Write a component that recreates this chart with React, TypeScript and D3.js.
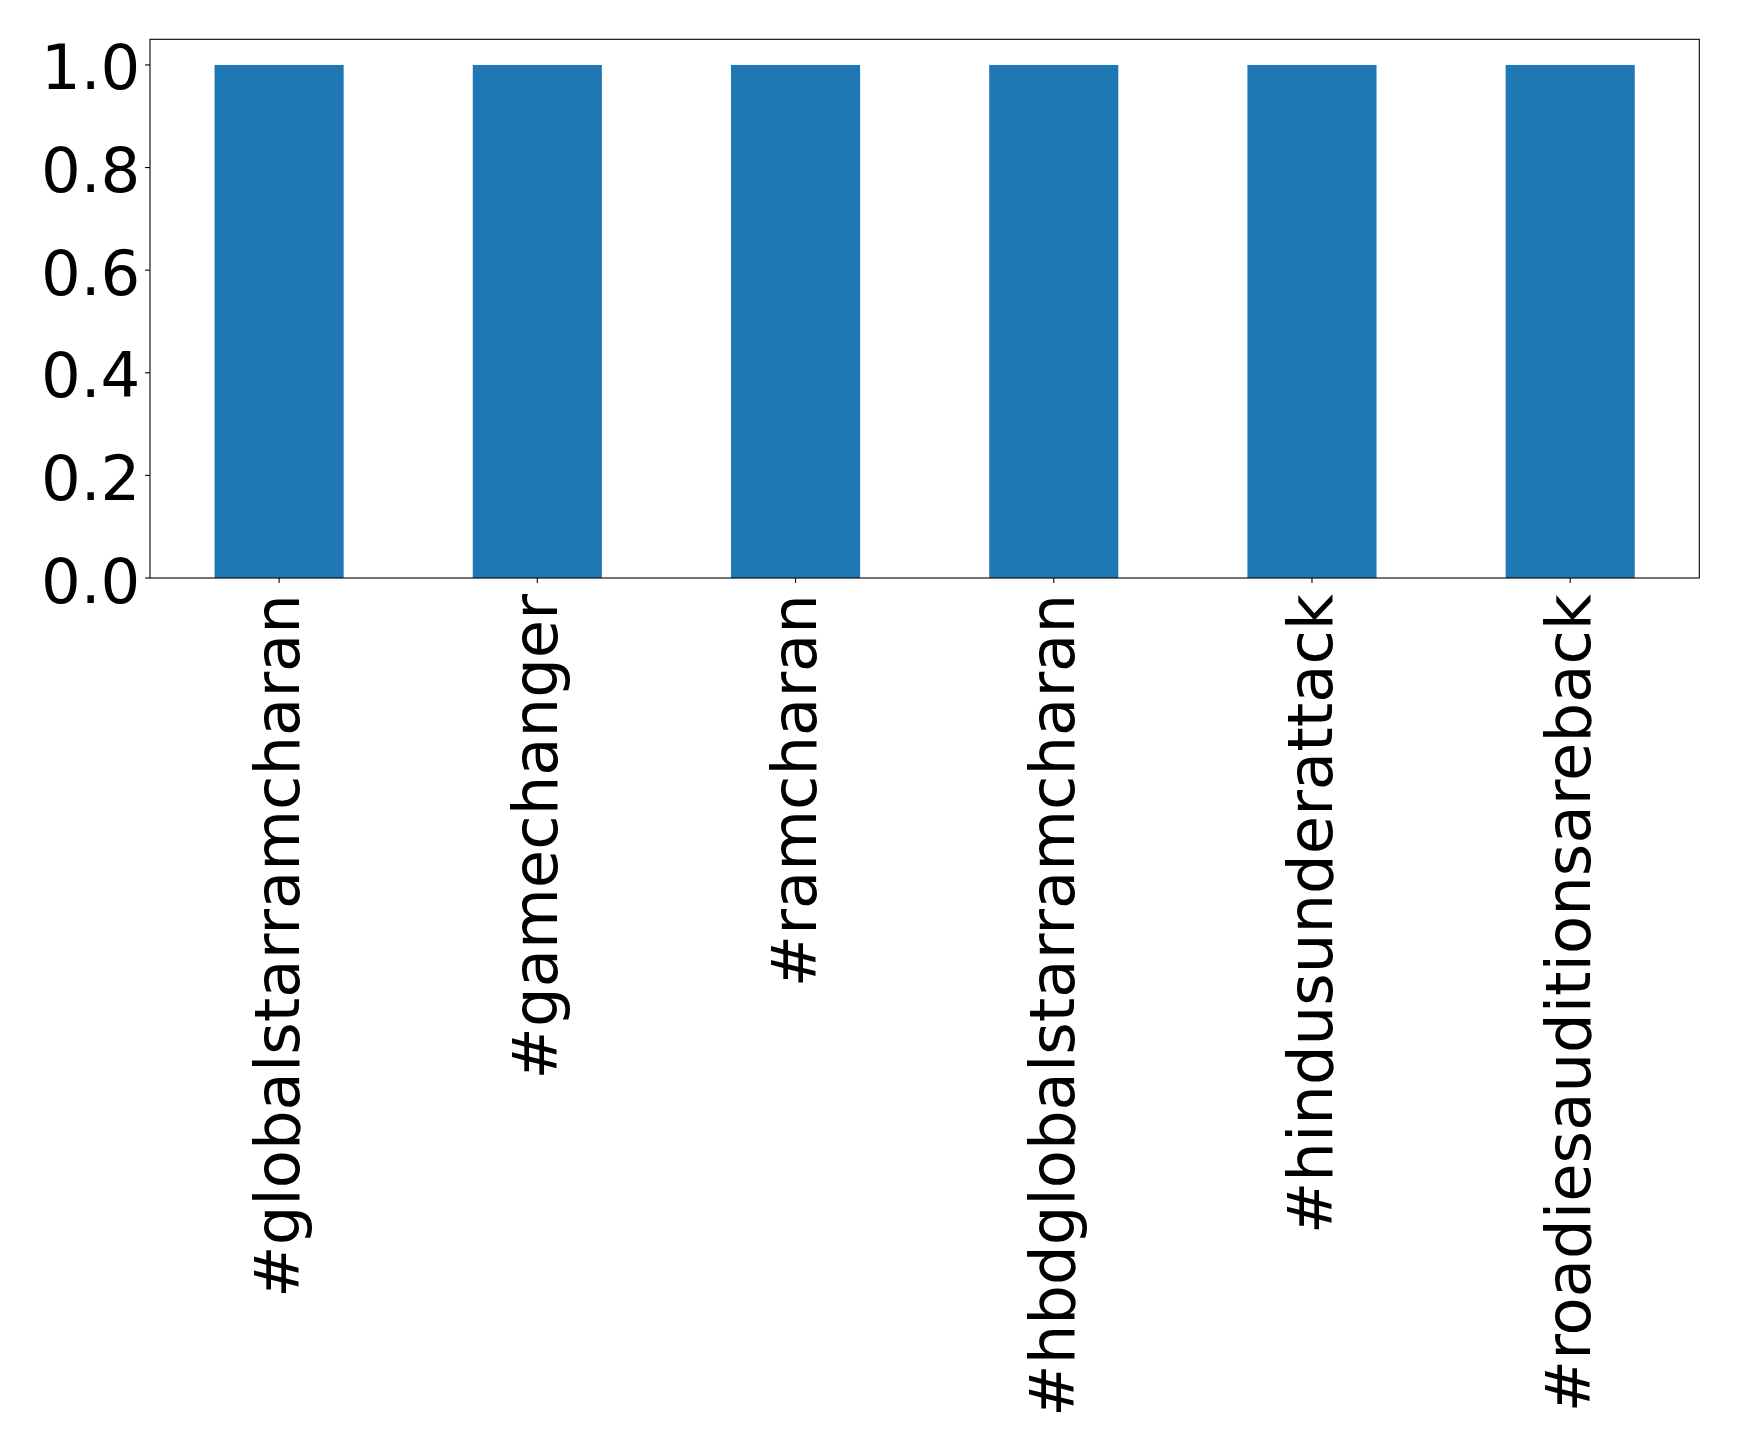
import React from "react";
import * as d3 from "d3";

const categories = [
  "#globalstarramcharan",
  "#gamechanger",
  "#ramcharan",
  "#hbdglobalstarramcharan",
  "#hindusunderattack",
  "#roadiesauditionsareback",
];
const values = [1, 1, 1, 1, 1, 1];
const yTicks = [0, 0.2, 0.4, 0.6, 0.8, 1.0];

const W = 1739;
const H = 1450;
const left = 150;
const right = 1699.3;
const top = 39.3;
const bottom = 578;
const FONT = 62.5;

export default function App() {
  const x = d3
    .scaleBand<string>()
    .domain(categories)
    .range([left, right])
    .paddingInner(0.5)
    .paddingOuter(0.25);
  const y = d3.scaleLinear().domain([0, 1.05]).range([bottom, top]);
  const step = x.step();
  const bw = x.bandwidth();

  return (
    <svg
      width={W}
      height={H}
      style={{ position: "absolute", left: 0, top: 0, background: "#fff" }}
      fontFamily="DejaVu Sans"
    >
      <rect x={0} y={0} width={W} height={H} fill="#fff" />
      {categories.map((c, i) => (
        <rect
          key={c}
          x={x(c)!}
          y={y(values[i])}
          width={bw}
          height={y(0) - y(values[i])}
          fill="#1f77b4"
        />
      ))}
      <rect
        x={left}
        y={top}
        width={right - left}
        height={bottom - top}
        fill="none"
        stroke="#000"
        strokeWidth={1.1}
      />
      {yTicks.map((t) => (
        <g key={t}>
          <line x1={left - 4.9} x2={left} y1={y(t)} y2={y(t)} stroke="#000" strokeWidth={1.1} />
          <text x={left - 9.7} y={y(t) + 24.5} fontSize={FONT} textAnchor="end" fill="#000">
            {t.toFixed(1)}
          </text>
        </g>
      ))}
      {categories.map((c) => {
        const cx = x(c)! + bw / 2;
        return (
          <g key={c}>
            <line x1={cx} x2={cx} y1={bottom} y2={bottom + 4.9} stroke="#000" strokeWidth={1.1} />
            <text
              transform={`translate(${cx + 20},${594}) rotate(-90)`}
              fontSize={FONT}
              textAnchor="end"
              fill="#000"
            >
              {c}
            </text>
          </g>
        );
      })}
    </svg>
  );
}
